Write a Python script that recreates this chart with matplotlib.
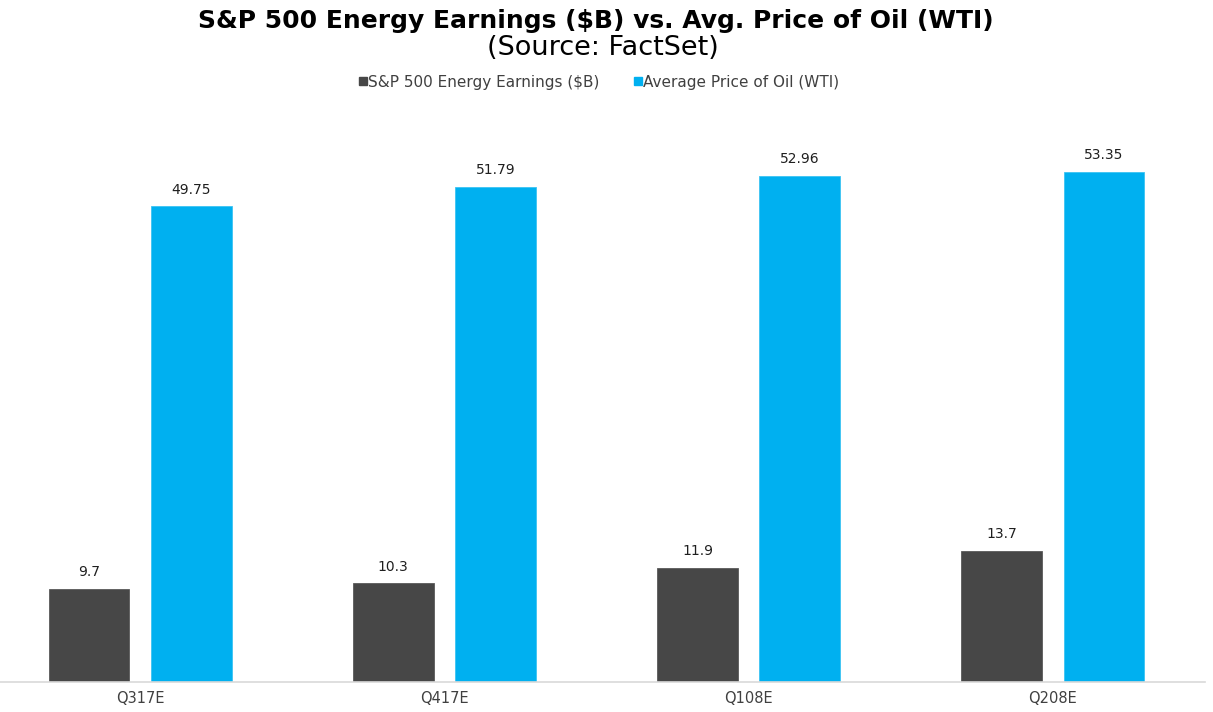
import matplotlib
matplotlib.use("Agg")
import matplotlib.pyplot as plt
from matplotlib.lines import Line2D
import numpy as np

categories = ["Q317E", "Q417E", "Q108E", "Q208E"]
earnings = [9.7, 10.3, 11.9, 13.7]
oil_price = [49.75, 51.79, 52.96, 53.35]
earn_labels = ["9.7", "10.3", "11.9", "13.7"]
oil_labels = ["49.75", "51.79", "52.96", "53.35"]

plt.rcParams['font.family'] = ['DejaVu Sans']

GRAY = "#474747"
BLUE = "#00B0F0"

fig = plt.figure(figsize=(12.13, 7.12), dpi=100)
W, H = 1213, 712
left_px, right_px = -12, 1205
bot_px, top_px = 681.6, 108.6
ax = fig.add_axes([left_px / W, 1 - bot_px / H, (right_px - left_px) / W, (bot_px - top_px) / H])

x = np.arange(len(categories))
bw = 0.266
off = 0.168
b1 = ax.bar(x - off, earnings, bw, color=GRAY, edgecolor="#5a5a5a", linewidth=0.6)
b2 = ax.bar(x + off, oil_price, bw, color=BLUE, edgecolor="#3cc3f3", linewidth=0.6)

for rect, lab in zip(b1, earn_labels):
    ax.annotate(lab, (rect.get_x() + rect.get_width() / 2, rect.get_height()),
                xytext=(0, 7), textcoords="offset points", ha="center", va="bottom",
                fontsize=10, color="#1f1f1f")
for rect, lab in zip(b2, oil_labels):
    ax.annotate(lab, (rect.get_x() + rect.get_width() / 2, rect.get_height()),
                xytext=(0, 7), textcoords="offset points", ha="center", va="bottom",
                fontsize=10, color="#1f1f1f")

ax.set_xlim(-0.5, len(categories) - 0.5)
ax.set_ylim(0, 60)
ax.set_xticks(x)
ax.set_xticklabels(categories, fontsize=10.5, color="#404040")
ax.tick_params(axis="x", length=0, pad=7)
ax.set_yticks([])
for s in ["top", "right", "left"]:
    ax.spines[s].set_visible(False)
ax.spines["bottom"].set_color("#d9d9d9")
ax.spines["bottom"].set_linewidth(1.2)

fig.text(596 / W, 1 - 21 / H, "S&P 500 Energy Earnings ($B) vs. Avg. Price of Oil (WTI)",
         ha="center", va="center", fontsize=18, fontweight="bold", color="black")
fig.text(603 / W, 1 - 48 / H, "(Source: FactSet)", ha="center", va="center",
         fontsize=19.5, color="black")

handles = [Line2D([], [], marker="s", linestyle="none", color=GRAY, markersize=6),
           Line2D([], [], marker="s", linestyle="none", color=BLUE, markersize=6)]
fig.legend(handles, ["S&P 500 Energy Earnings ($B)", "Average Price of Oil (WTI)"],
           loc="center", bbox_to_anchor=(599 / W, 1 - 82 / H), ncol=2, frameon=False,
           fontsize=11, handlelength=0.6, handletextpad=0.05, columnspacing=2.2,
           labelcolor="#404040")

fig.savefig("out.png", dpi=100, facecolor="white")
